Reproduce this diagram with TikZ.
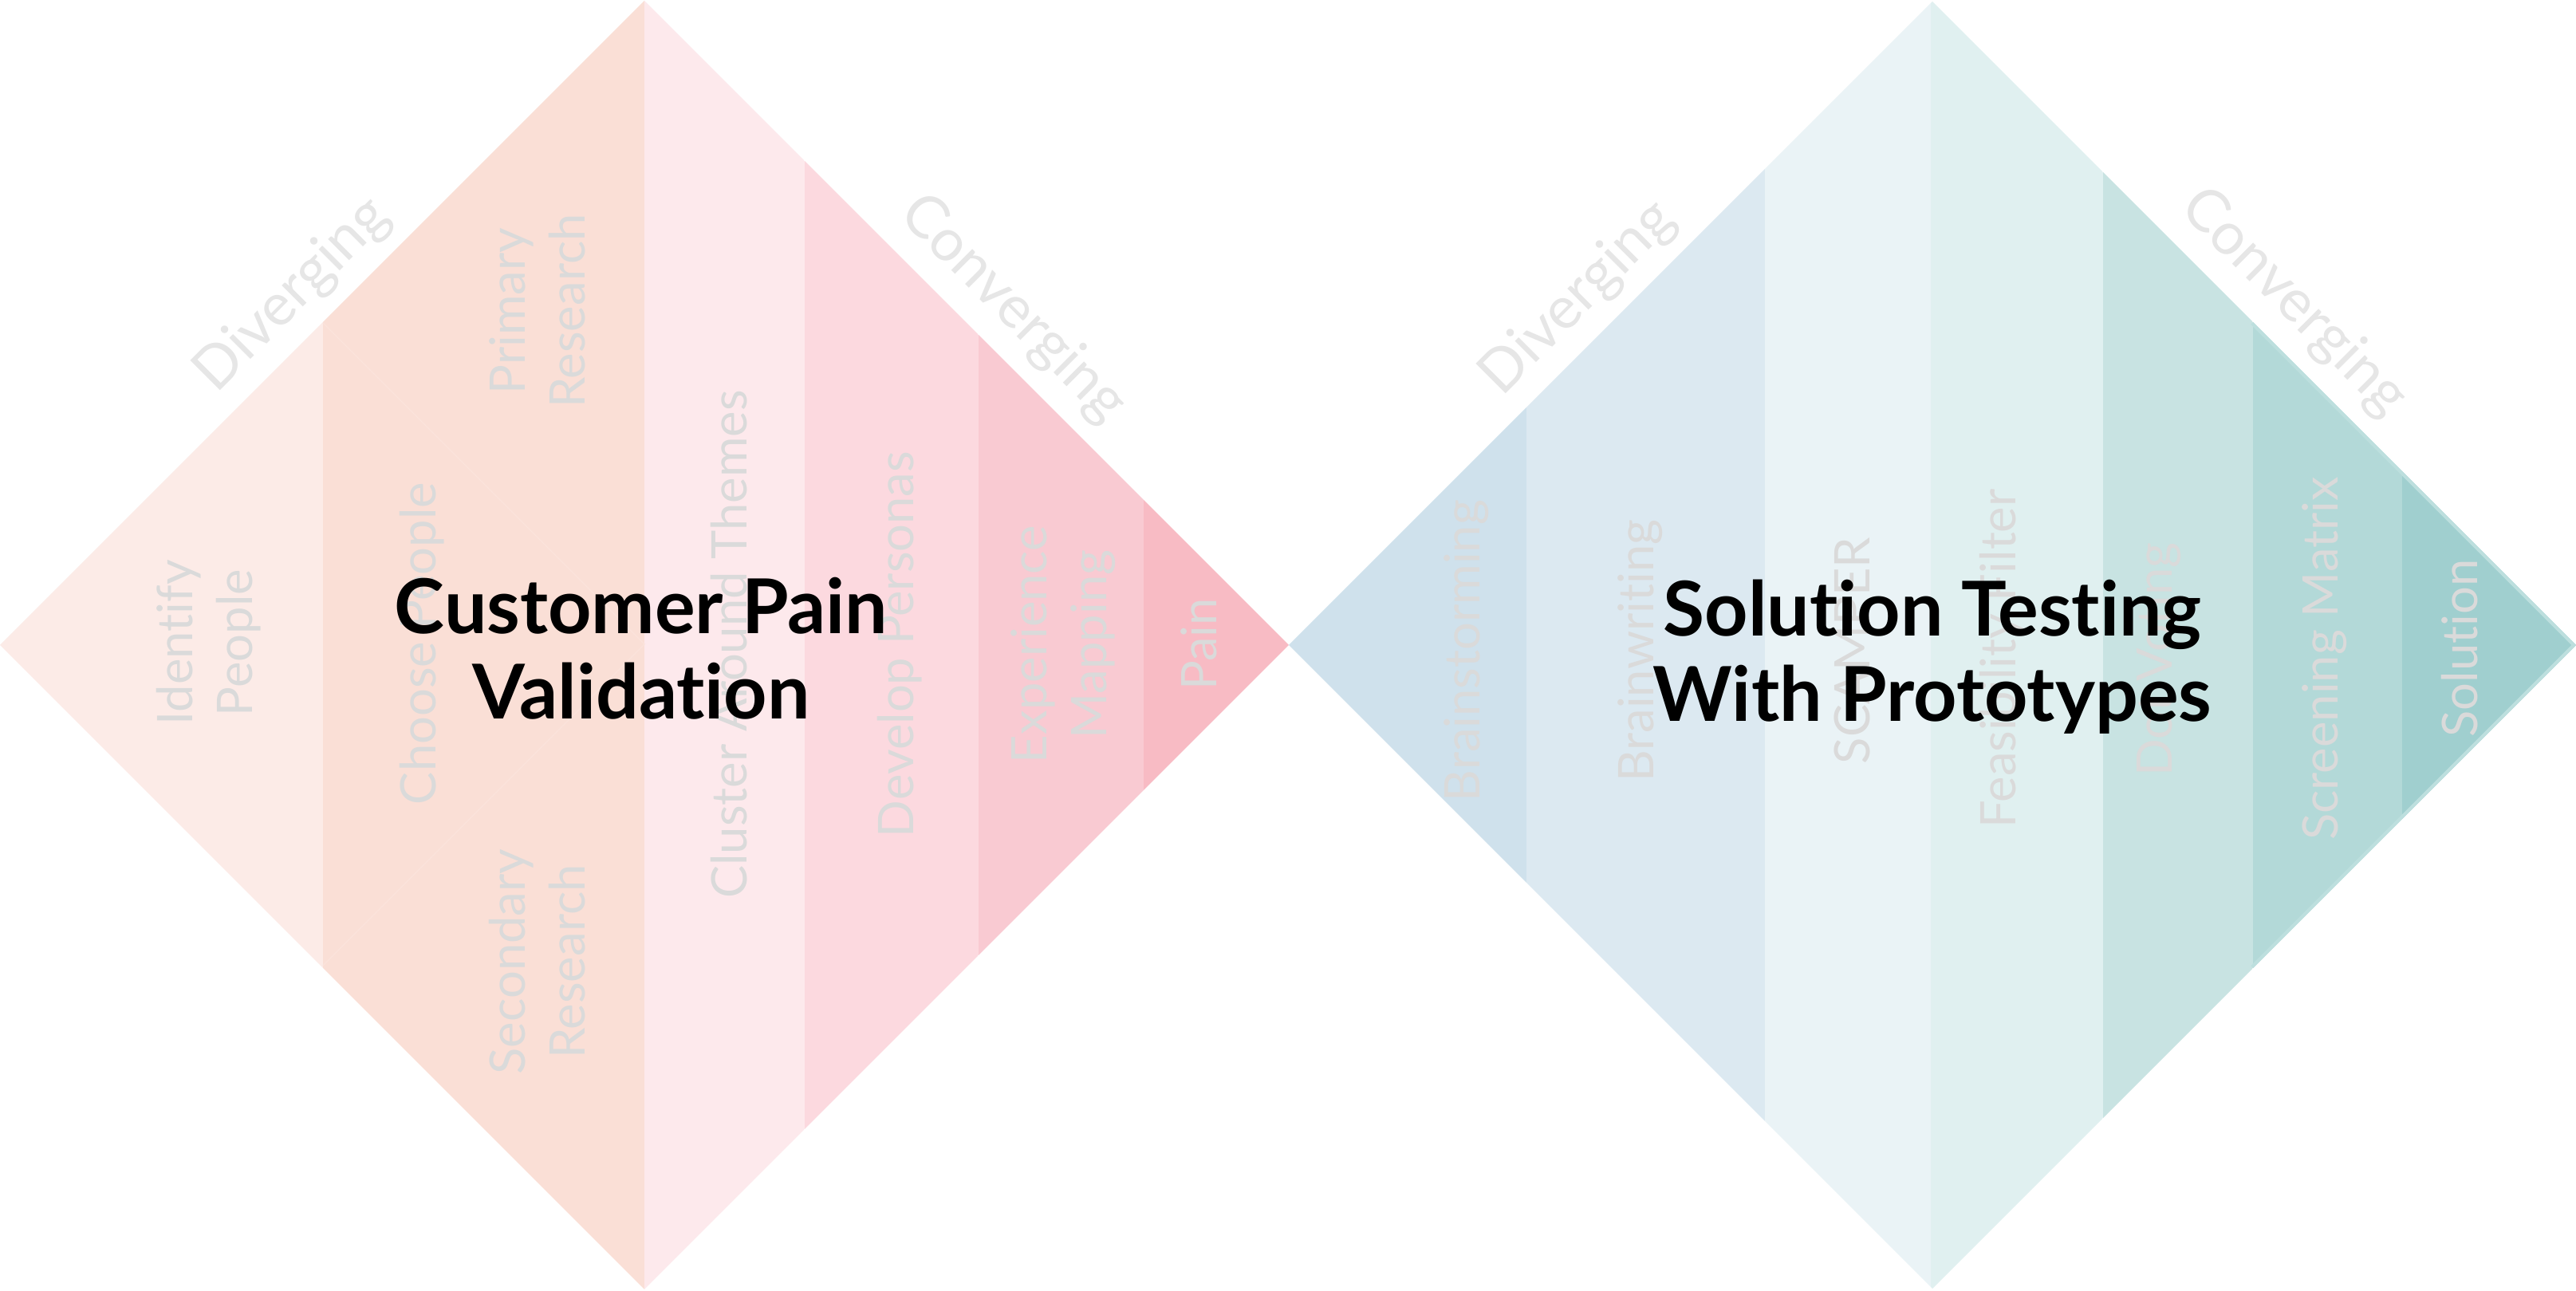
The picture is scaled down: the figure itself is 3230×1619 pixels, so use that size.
\documentclass[tikz,border=0pt]{standalone}
\usepackage{fontspec}
\setmainfont{Lato}[Ligatures=NoCommon]
\usetikzlibrary{positioning}
\definecolor{painA}{HTML}{FCEBE7}
\definecolor{painB}{HTML}{FADFD6}
\definecolor{painC}{HTML}{FDE9EC}
\definecolor{painD}{HTML}{FCD9DF}
\definecolor{painE}{HTML}{F9CAD2}
\definecolor{painF}{HTML}{F8BBC4}
\definecolor{protoA}{HTML}{CFE1EC}
\definecolor{protoB}{HTML}{DCE9F1}
\definecolor{protoC}{HTML}{EAF3F6}
\definecolor{protoD}{HTML}{E0F0F0}
\definecolor{protoE}{HTML}{C8E3E2}
\definecolor{protoF}{HTML}{B3D9D8}
\definecolor{protoG}{HTML}{A0CFCF}
\definecolor{protoEdge}{HTML}{BDDFDE}
\definecolor{phaseGrey}{HTML}{E6E6E6}
\definecolor{stageGrey}{HTML}{DADADA}

\begin{document}
\begin{tikzpicture}[
  x=0.1mm, y=0.1mm,
  phase/.style={
    text=phaseGrey, inner sep=0pt,
    font=\fontsize{21}{25}\selectfont
  },
  stage/.style={
    text=stageGrey, rotate=90, align=center, inner sep=0pt,
    font=\fontsize{17.5}{21.3}\selectfont
  },
  headline/.style={
    text=black, align=center, inner sep=0pt,
    font=\fontsize{27}{30.5}\selectfont\bfseries
  },
]

\useasboundingbox (0,0) rectangle (3230,1619);
\fill[white] (0,0) rectangle (3230,1619);

% Customer pain diamond
\begin{scope}
  \clip (0,810) -- (808,1618) -- (1616,810) -- (808,2) -- cycle;
  \foreach \xa/\xb/\col in {0/405/painA, 405/808/painB, 808/1009/painC,
      1009/1227/painD, 1227/1434/painE, 1434/1616/painF}
    \fill[\col] (\xa,0) rectangle (\xb,1619);
  \draw[painB!88!white, line width=0.4pt] (405,1214) -- (808,811) -- (405,408);
\end{scope}

% Prototype diamond
\begin{scope}
  \clip (1616,810) -- (2423,1617) -- (3230,810) -- (2423,3) -- cycle;
  \foreach \xa/\xb/\col in {1616/1914/protoA, 1914/2213/protoB, 2213/2421/protoC,
      2421/2637/protoD, 2637/2825/protoE, 2825/3012/protoF, 3012/3230/protoG}
    \fill[\col] (\xa,0) rectangle (\xb,1619);
  \draw[protoEdge, line width=2.3pt] (2825,1215) -- (3230,810) -- (2825,405);
\end{scope}

% Phase labels
\node[phase, rotate=45] (divPain) at (367,1249) {Diverging};
\node[phase, rotate=-45] (convPain) at (1270,1231) {Converging};
\node[phase, rotate=45] (divProto) at (1979,1245) {Diverging};
\node[phase, rotate=-45] (convProto) at (2876,1239) {Converging};

% Customer pain stages
\node[stage] (identify) at (262,813) {Identify\\People};
\node[stage] (choose) at (529,812) {Choose People};
\node[stage] (primary) at (674,1229) {Primary\\Research};
\node[stage] (secondary) at (674,413) {Secondary\\Research};
\node[stage] (cluster) at (914,811) {Cluster Around Themes};
\node[stage] (personas) at (1128,811) {Develop Personas};
\node[stage] (experience) at (1333,811) {Experience\\Mapping};
\node[stage] (pain) at (1503,811) {Pain};

% Prototype stages
\node[stage] (brainstorm) at (1839,803) {Brainstorming};
\node[stage] (brainwrite) at (2057,803) {Brainwriting};
\node[stage] (scamper) at (2322,803) {SCAMPER};
\node[stage] (feasibility) at (2510,793) {Feasibility Filter};
\node[stage] (dotvote) at (2707,792) {Dot Voting};
\node[stage] (screening) at (2915,793) {Screening Matrix};
\node[stage] (solution) at (3084,806) {Solution};

% Titles
\node[headline] (painTitle) at (804,806) {Customer Pain\\Validation};
\node[headline] (protoTitle) at (2423,795) {Solution Testing\\With Prototypes};

\end{tikzpicture}
\end{document}
